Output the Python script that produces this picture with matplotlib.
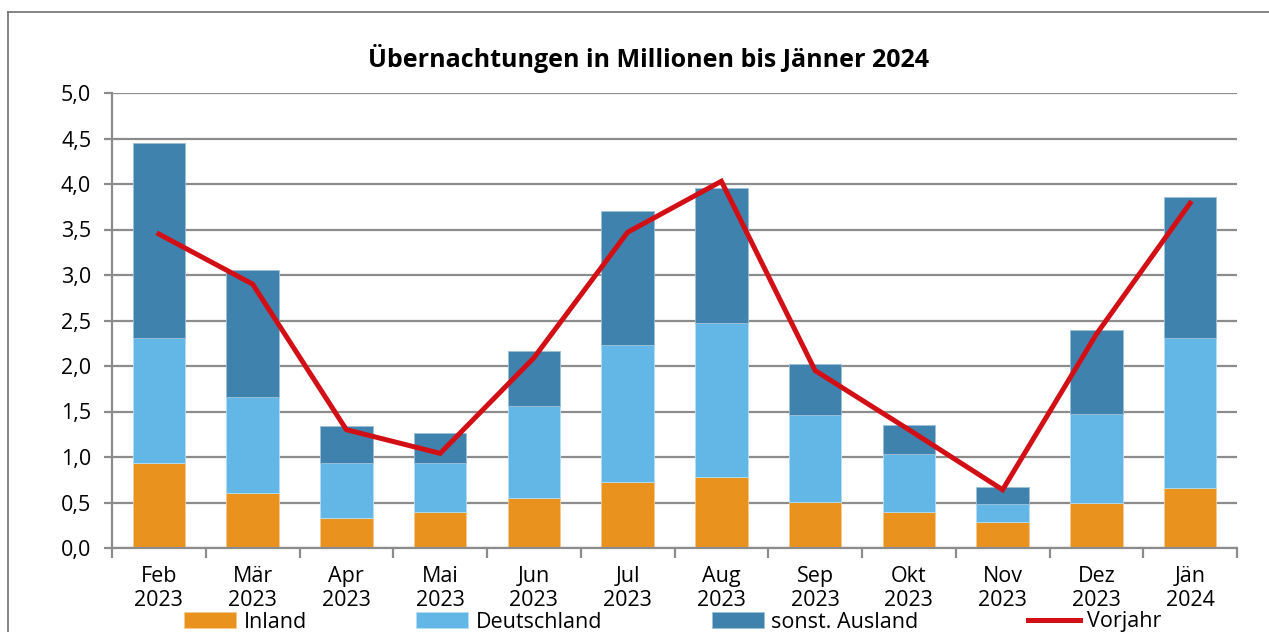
import matplotlib.pyplot as plt
from matplotlib.lines import Line2D
from matplotlib.ticker import FuncFormatter, FixedLocator
import numpy as np

plt.rcParams['font.family'] = ['Open Sans', 'DejaVu Sans']

# Übernachtungen in Millionen
monate = ['Feb\n2023', 'Mär\n2023', 'Apr\n2023', 'Mai\n2023', 'Jun\n2023', 'Jul\n2023',
          'Aug\n2023', 'Sep\n2023', 'Okt\n2023', 'Nov\n2023', 'Dez\n2023', 'Jän\n2024']
inland = [0.93, 0.60, 0.33, 0.40, 0.55, 0.73, 0.78, 0.51, 0.40, 0.29, 0.50, 0.66]
deutschland = [1.38, 1.06, 0.60, 0.53, 1.01, 1.50, 1.69, 0.95, 0.63, 0.19, 0.97, 1.65]
sonst_ausland = [2.14, 1.39, 0.41, 0.33, 0.61, 1.47, 1.49, 0.56, 0.32, 0.19, 0.93, 1.55]
vorjahr = [3.45, 2.90, 1.30, 1.04, 2.09, 3.47, 4.03, 1.95, 1.30, 0.64, 2.35, 3.79]

c_inland = '#EA921E'
c_de = '#63B7E6'
c_ausl = '#3F82AE'
c_vj = '#D30F16'
c_grid = '#8C8C8C'

fig = plt.figure(figsize=(12.69, 6.32), dpi=100)
ax = fig.add_axes([112/1269, 1 - 548/632, (1237-112)/1269, (548-93)/632])

x = np.arange(len(monate))
w = 0.56
b1 = ax.bar(x, inland, w, color=c_inland, edgecolor='#F5C98F', linewidth=0.6, zorder=2, label='Inland')
b2 = ax.bar(x, deutschland, w, bottom=inland, color=c_de, edgecolor='#B5DDF3', linewidth=0.6,
            zorder=2, label='Deutschland')
bottom2 = np.array(inland) + np.array(deutschland)
b3 = ax.bar(x, sonst_ausland, w, bottom=bottom2, color=c_ausl, edgecolor='#9CC0D8', linewidth=0.6,
            zorder=2, label='sonst. Ausland')
l1, = ax.plot(x, vorjahr, color=c_vj, linewidth=3.6, zorder=3, label='Vorjahr',
              solid_joinstyle='miter')

ax.set_xlim(-0.5, 11.5)
ax.set_ylim(0, 5)
ax.set_yticks(np.arange(0, 5.01, 0.5))
ax.yaxis.set_major_formatter(FuncFormatter(lambda v, p: f'{v:.1f}'.replace('.', ',')))
ax.yaxis.grid(True, color=c_grid, linewidth=1.6, zorder=0)
ax.set_axisbelow(True)

ax.set_xticks(x)
ax.set_xticklabels(monate, linespacing=1.2)
ax.xaxis.set_minor_locator(FixedLocator(np.arange(-0.5, 12, 1)))
ax.tick_params(axis='x', which='major', length=0, pad=13, labelsize=15.5)
ax.tick_params(axis='x', which='minor', length=7, width=1.6, color=c_grid)
ax.tick_params(axis='y', length=6, width=1.6, color=c_grid, labelsize=15.5, pad=9)

for s in ['top', 'right']:
    ax.spines[s].set_visible(False)
for s in ['left', 'bottom']:
    ax.spines[s].set_color(c_grid)
    ax.spines[s].set_linewidth(1.6)

fig.text(648/1269, 1 - 58/632, 'Übernachtungen in Millionen bis Jänner 2024',
         ha='center', va='center', fontsize=18, fontweight='bold')

# outer frame
fig.add_artist(Line2D([8/1269, 8/1269], [0, 1 - 12/632], color='#6E6E6E', linewidth=1.2))
fig.add_artist(Line2D([8/1269, 1], [1 - 12/632, 1 - 12/632], color='#6E6E6E', linewidth=1.2))

fig.legend(handles=[b1, b2, b3, l1], loc='center', bbox_to_anchor=(673/1269, 1 - 622/632),
           ncol=4, frameon=False, fontsize=15.5, handlelength=2.4, handleheight=0.8,
           handletextpad=0.35, columnspacing=5.1, borderpad=0)

fig.savefig('out.png', dpi=100)
